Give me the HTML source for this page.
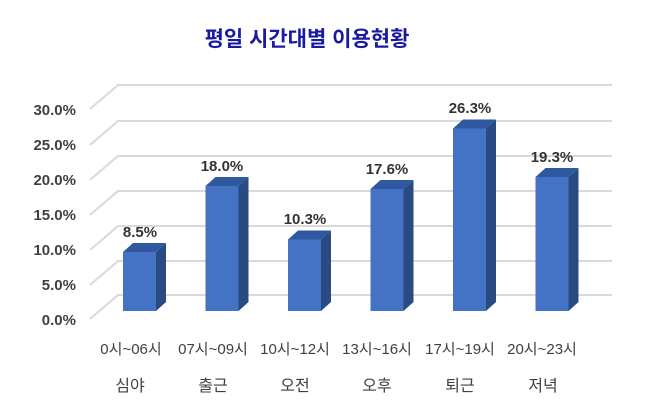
<!DOCTYPE html>
<html><head><meta charset="utf-8"><style>
html,body{margin:0;padding:0;background:#fff;}
svg{display:block;}
text{font-family:"Liberation Sans","Noto Sans CJK KR",sans-serif;}
</style></head><body>
<svg width="653" height="420" viewBox="0 0 653 420" xmlns="http://www.w3.org/2000/svg">
<text x="307" y="46" text-anchor="middle" font-size="21" font-weight="bold" fill="#1a1aa0">평일 시간대별 이용현황</text>
<g stroke="#d9d9d9" stroke-width="2" fill="none">
<path d="M90 109 L118 85 H612"/>
<path d="M90 145 L118 121 H612"/>
<path d="M90 180 L118 156 H612"/>
<path d="M90 215 L118 191 H612"/>
<path d="M90 250 L118 226 H612"/>
<path d="M90 285 L118 261 H612"/>
<path d="M90 319 L118 295 H612"/>
</g>
<g font-size="15" font-weight="bold" fill="#404040" text-anchor="end">
<text x="76" y="115">30.0%</text>
<text x="76" y="150">25.0%</text>
<text x="76" y="185">20.0%</text>
<text x="76" y="220">15.0%</text>
<text x="76" y="255">10.0%</text>
<text x="76" y="290">5.0%</text>
<text x="76" y="325">0.0%</text>
</g>
<g>
<polygon points="156,252 166,243 166,302 156,311" fill="#2a4a82"/>
<polygon points="123,252 133,243 166,243 156,252" fill="#3058a0"/>
<rect x="123" y="252" width="33" height="59" fill="#4472c4"/>
<text x="140" y="237" text-anchor="middle" font-size="15" font-weight="bold" fill="#333">8.5%</text>

<polygon points="238.5,186 248.5,177 248.5,302 238.5,311" fill="#2a4a82"/>
<polygon points="205.5,186 215.5,177 248.5,177 238.5,186" fill="#3058a0"/>
<rect x="205.5" y="186" width="33" height="125" fill="#4472c4"/>
<text x="222" y="171" text-anchor="middle" font-size="15" font-weight="bold" fill="#333">18.0%</text>

<polygon points="321,239.5 331,230.5 331,302 321,311" fill="#2a4a82"/>
<polygon points="288,239.5 298,230.5 331,230.5 321,239.5" fill="#3058a0"/>
<rect x="288" y="239.5" width="33" height="71.5" fill="#4472c4"/>
<text x="305" y="224" text-anchor="middle" font-size="15" font-weight="bold" fill="#333">10.3%</text>

<polygon points="403.5,189 413.5,180 413.5,302 403.5,311" fill="#2a4a82"/>
<polygon points="370.5,189 380.5,180 413.5,180 403.5,189" fill="#3058a0"/>
<rect x="370.5" y="189" width="33" height="122" fill="#4472c4"/>
<text x="387" y="174" text-anchor="middle" font-size="15" font-weight="bold" fill="#333">17.6%</text>

<polygon points="486,128.5 496,119.5 496,302 486,311" fill="#2a4a82"/>
<polygon points="453,128.5 463,119.5 496,119.5 486,128.5" fill="#3058a0"/>
<rect x="453" y="128.5" width="33" height="182.5" fill="#4472c4"/>
<text x="470" y="113" text-anchor="middle" font-size="15" font-weight="bold" fill="#333">26.3%</text>

<polygon points="568.5,177 578.5,168 578.5,302 568.5,311" fill="#2a4a82"/>
<polygon points="535.5,177 545.5,168 578.5,168 568.5,177" fill="#3058a0"/>
<rect x="535.5" y="177" width="33" height="134" fill="#4472c4"/>
<text x="552" y="162" text-anchor="middle" font-size="15" font-weight="bold" fill="#333">19.3%</text>
</g>
<g font-size="15" fill="#404040" text-anchor="middle">
<text x="131" y="354">0시~06시</text>
<text x="213" y="354">07시~09시</text>
<text x="295" y="354">10시~12시</text>
<text x="377" y="354">13시~16시</text>
<text x="460" y="354">17시~19시</text>
<text x="542" y="354">20시~23시</text>
<g font-size="16">
<text x="130" y="391">심야</text>
<text x="213" y="391">출근</text>
<text x="295" y="391">오전</text>
<text x="377" y="391">오후</text>
<text x="460" y="391">퇴근</text>
<text x="543" y="391">저녁</text>
</g></g>
</svg>
</body></html>
